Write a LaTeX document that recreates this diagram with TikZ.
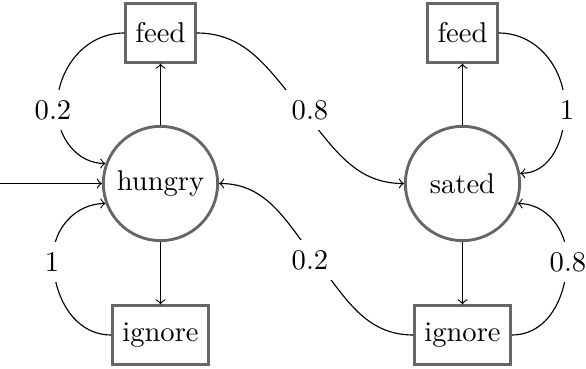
\documentclass[tikz,border=0pt]{standalone}
\begin{document}
\begin{tikzpicture}[x=0.35pt,y=-0.35pt,
  state/.style={circle,draw=black!60,line width=1pt,minimum size=40pt,inner sep=0pt},
  act/.style={rectangle,draw=black!60,line width=1pt,minimum height=20.4pt,inner xsep=3.4pt,inner ysep=0pt},
  prob/.style={fill=white,inner sep=3.5pt},
  edge/.style={->,line width=0.4pt}]
\useasboundingbox (0,0) rectangle (586,369);
% states and actions
\node[state] (hungry) at (160.5,183.5) {hungry};
\node[state] (sated) at (462.5,183.5) {sated};
\node[act] (feedL) at (160.5,33) {feed};
\node[act] (ignoreL) at (160.5,335) {ignore};
\node[act] (feedR) at (462.5,33) {feed};
\node[act] (ignoreR) at (462.5,335) {ignore};
% crossing points under the labels
\coordinate (start) at (0,183.5);
\coordinate (c1) at (57,108);
\coordinate (c2) at (53,258);
\coordinate (c3) at (300,107);
\coordinate (c4) at (316,260);
\coordinate (c5) at (565,108);
\coordinate (c6) at (567,259);
% connectors
\draw[edge] (start) -- (hungry.west);
\draw[edge] (hungry.north) -- (feedL.south);
\draw[edge] (hungry.south) -- (ignoreL.north);
\draw[edge] (sated.north) -- (feedR.south);
\draw[edge] (sated.south) -- (ignoreR.north);
\draw[edge] (feedL.west) to[out=180,in=90] (c1) to[out=-90,in=180] (hungry.160);
\draw[edge] (ignoreL.west) to[out=180,in=-90] (c2) to[out=90,in=180] (hungry.200);
\draw[edge] (feedL.east) to[out=0,in=130] (c3) to[out=-50,in=180] (sated.west);
\draw[edge] (ignoreR.west) to[out=180,in=-52] (c4) to[out=128,in=0] (hungry.east);
\draw[edge] (feedR.east) to[out=0,in=90] (c5) to[out=-90,in=0] (sated.10);
\draw[edge] (ignoreR.east) to[out=0,in=-90] (c6) to[out=90,in=0] (sated.-20);
% labels
\node[prob] (p1) at (53,110) {0.2};
\node[prob] (p2) at (52,262) {1};
\node[prob] (p3) at (310,110) {0.8};
\node[prob] (p4) at (310,260) {0.2};
\node[prob] (p5) at (567,110) {1};
\node[prob] (p6) at (568,262) {0.8};
\end{tikzpicture}
\end{document}
